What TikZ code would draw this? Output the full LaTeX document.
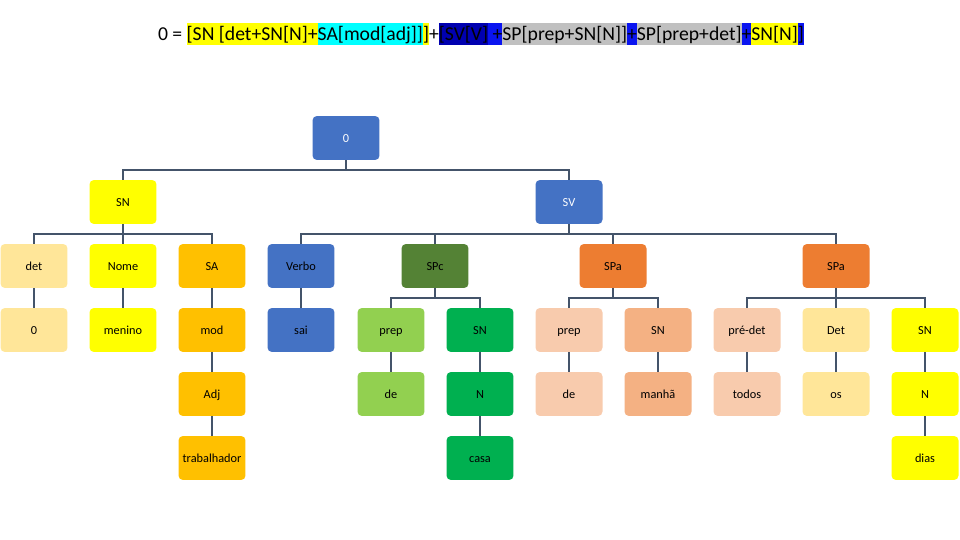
\documentclass[tikz,border=0pt]{standalone}
\usepackage{fontspec}
\setmainfont{Carlito}
\usepackage{xcolor}
\usetikzlibrary{positioning}

\definecolor{blueN}{HTML}{4472C4}
\definecolor{goldL}{HTML}{FFE699}
\definecolor{yelN}{HTML}{FFFF00}
\definecolor{amberN}{HTML}{FFC000}
\definecolor{greenD}{HTML}{548235}
\definecolor{greenL}{HTML}{92D050}
\definecolor{greenN}{HTML}{00B050}
\definecolor{orangeN}{HTML}{ED7D31}
\definecolor{peachL}{HTML}{F8CBAD}
\definecolor{salmonN}{HTML}{F4B183}
\definecolor{linkC}{HTML}{44546A}
\definecolor{cyanT}{HTML}{00FFFF}
\definecolor{navyT}{HTML}{0000B0}
\definecolor{blueT}{HTML}{0A14F0}
\definecolor{grayT}{HTML}{C0C0C0}

\setlength{\fboxsep}{0pt}
\newcommand{\hlbox}[2]{\colorbox{#1}{\rule[-2.3pt]{0pt}{12.5pt}#2}}

\begin{document}
\begin{tikzpicture}[
    x=0.02cm, y=-0.02cm,
    font=\fontsize{7}{8}\selectfont,
    box/.style={rectangle, rounded corners=2.5pt, minimum width=13.4mm,
                minimum height=8.8mm, inner sep=1pt, align=center,
                text height=1.45ex, text depth=0.3ex},
    link/.style={draw=linkC, line width=1.2pt}
  ]
    \useasboundingbox (0,0) rectangle (960,540);

    \node[font=\fontsize{11.2}{13}\selectfont, inner sep=0pt] (title) at (481,34)
      {0 = \hlbox{yelN}{[SN [det+SN[N]+}\hlbox{cyanT}{SA[mod[adj]]}\hlbox{yelN}{]}+\hlbox{navyT}{[SV[V]}\hlbox{blueT}{ +}\hlbox{grayT}{SP[prep+SN[N]]}\hlbox{blueT}{+}\hlbox{grayT}{SP[prep+det]}\hlbox{blueT}{+}\hlbox{yelN}{SN[N]}\hlbox{blueT}{]}};

    % top levels
    \node[box, fill=blueN, text=white] (root) at (346,138) {0};
    \node[box, fill=yelN] (sn) at (123,202) {SN};
    \node[box, fill=blueN, text=white] (sv) at (569,202) {SV};

    % phrases
    \node[box, fill=goldL] (det) at (34,266) {det};
    \node[box, fill=yelN] (nome) at (123,266) {Nome};
    \node[box, fill=amberN] (sa) at (212,266) {SA};
    \node[box, fill=blueN] (verbo) at (301,266) {Verbo};
    \node[box, fill=greenD] (spc) at (435,266) {SPc};
    \node[box, fill=orangeN] (spa) at (613,266) {SPa};
    \node[box, fill=orangeN] (spb) at (836,266) {SPa};

    % fourth row
    \node[box, fill=goldL] (o) at (34,330) {0};
    \node[box, fill=yelN] (menino) at (123,330) {menino};
    \node[box, fill=amberN] (mod) at (212,330) {mod};
    \node[box, fill=blueN] (sai) at (301,330) {sai};
    \node[box, fill=greenL] (prepc) at (391,330) {prep};
    \node[box, fill=greenN] (snc) at (480,330) {SN};
    \node[box, fill=peachL] (prepa) at (569,330) {prep};
    \node[box, fill=salmonN] (sna) at (658,330) {SN};
    \node[box, fill=peachL] (predet) at (747,330) {pré-det};
    \node[box, fill=goldL] (detb) at (836,330) {Det};
    \node[box, fill=yelN] (snb) at (925,330) {SN};

    % fifth row
    \node[box, fill=amberN] (adj) at (212,394) {Adj};
    \node[box, fill=greenL] (dec) at (391,394) {de};
    \node[box, fill=greenN] (nc) at (480,394) {N};
    \node[box, fill=peachL] (dea) at (569,394) {de};
    \node[box, fill=salmonN] (manha) at (658,394) {manhã};
    \node[box, fill=peachL] (todos) at (747,394) {todos};
    \node[box, fill=goldL] (os) at (836,394) {os};
    \node[box, fill=yelN] (nb) at (925,394) {N};

    % last row
    \node[box, fill=amberN] (trab) at (212,458) {trabalhador};
    \node[box, fill=greenN] (casa) at (480,458) {casa};
    \node[box, fill=yelN] (dias) at (925,458) {dias};

    % branches
    \foreach \c in {sn,sv} \draw[link] (root.south) -- ++(0,10) -| (\c.north);
    \foreach \c in {det,nome,sa} \draw[link] (sn.south) -- ++(0,10) -| (\c.north);
    \foreach \c in {verbo,spc,spa,spb} \draw[link] (sv.south) -- ++(0,10) -| (\c.north);
    \foreach \c in {prepc,snc} \draw[link] (spc.south) -- ++(0,10) -| (\c.north);
    \foreach \c in {prepa,sna} \draw[link] (spa.south) -- ++(0,10) -| (\c.north);
    \foreach \c in {predet,detb,snb} \draw[link] (spb.south) -- ++(0,10) -| (\c.north);

    % single lines
    \foreach \p/\c in {det/o, nome/menino, sa/mod, verbo/sai, mod/adj, prepc/dec,
                       snc/nc, prepa/dea, sna/manha, predet/todos, detb/os, snb/nb,
                       adj/trab, nc/casa, nb/dias}
      \draw[link] (\p) -- (\c);
  \end{tikzpicture}
\end{document}
